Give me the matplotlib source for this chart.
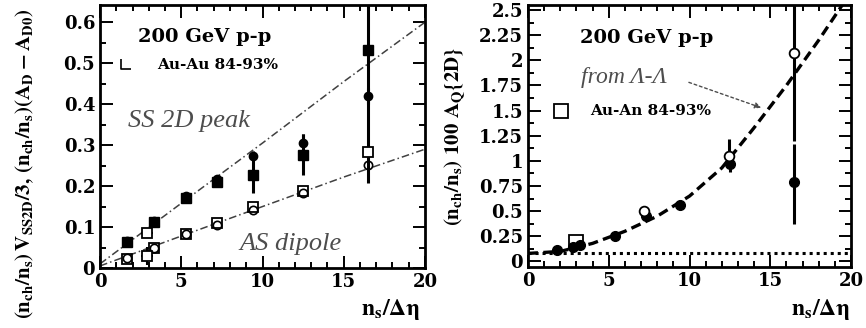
import numpy as np
import matplotlib
matplotlib.use("Agg")
import matplotlib.pyplot as plt
from matplotlib.ticker import MultipleLocator, FuncFormatter
from matplotlib.path import Path

# ---- left panel data: SS 2D peak (filled) and AS dipole (open) vs n_s/deta
left_x = [1.65, 3.3, 5.3, 7.2, 9.43, 12.5, 16.5]
ss_sq_y = [0.064, 0.112, 0.170, 0.210, 0.228, 0.276, 0.532]
ss_sq_lo = [0.004, 0.005, 0.008, 0.010, 0.045, 0.050, 0.325]
ss_sq_hi = [0.004, 0.005, 0.008, 0.010, 0.045, 0.050, 0.150]
ss_ci_y = [0.066, 0.115, 0.176, 0.217, 0.273, 0.306, 0.420]
ss_ci_err = [0.004, 0.005, 0.006, 0.010, 0.012, 0.020, 0.020]
as_sq_y = [0.021, 0.048, 0.082, 0.110, 0.150, 0.187, 0.283]
as_ci_y = [0.024, 0.050, 0.083, 0.105, 0.142, 0.183, 0.252]
auau_left_x = [2.9, 2.9]
auau_left_y = [0.085, 0.030]
auau_left_yerr = [0.008, 0.022]
auau_left_xerr = [0.35, 0.35]
ss_line_x = [0, 5, 10, 15, 20]
ss_line_y = [0.010, 0.158, 0.305, 0.455, 0.600]
as_line_x = [0, 5, 10, 15, 20]
as_line_y = [0.005, 0.078, 0.150, 0.222, 0.290]

# ---- right panel data: (n_ch/n_s) 100 A_Q{2D}
right_fx = [1.8, 2.8, 3.25, 5.4, 7.3, 9.4, 12.5, 16.5]
right_fy = [0.117, 0.14, 0.167, 0.255, 0.45, 0.56, 0.97, 0.79]
right_f_lo = [0.02, 0.02, 0.02, 0.02, 0.03, 0.03, 0.08, 0.42]
right_f_hi = [0.02, 0.02, 0.02, 0.02, 0.03, 0.03, 0.08, 0.38]
right_ox = [7.2, 12.45, 16.5]
right_oy = [0.50, 1.05, 2.07]
right_o_lo = [0.03, 0.08, 0.87]
right_o_hi = [0.03, 0.17, 0.60]
auau_right_x = [2.95]
auau_right_y = [0.19]
aq_curve_x = [0, 2, 4, 6, 8, 10, 12, 14, 16, 18, 20]
aq_curve_y = [0.08, 0.10, 0.18, 0.30, 0.45, 0.65, 0.93, 1.33, 1.75, 2.2, 2.68]
offset_level = 0.085

plt.rcParams["font.family"] = "DejaVu Serif"
plt.rcParams["font.weight"] = "bold"
plt.rcParams["mathtext.fontset"] = "stix"
plt.rcParams["mathtext.default"] = "bf"

fig = plt.figure(figsize=(8.66, 3.28), dpi=100)
axL = fig.add_axes([100 / 866, 60 / 328, 325 / 866, 263 / 328])
axR = fig.add_axes([528 / 866, 61 / 328, 323 / 866, 262 / 328])


def style(ax, ymajor, yminor):
    ax.set_xlim(0, 20)
    ax.xaxis.set_major_locator(MultipleLocator(5))
    ax.xaxis.set_minor_locator(MultipleLocator(1))
    ax.yaxis.set_major_locator(MultipleLocator(ymajor))
    ax.yaxis.set_minor_locator(MultipleLocator(yminor))
    ax.tick_params(which="both", direction="in", top=True, right=True,
                   labelsize=13, width=1.4)
    ax.tick_params(which="major", length=9)
    ax.tick_params(which="minor", length=4.5)
    ax.xaxis.set_major_formatter(FuncFormatter(lambda v, p: "%g" % v))
    ax.yaxis.set_major_formatter(FuncFormatter(lambda v, p: "%g" % v))
    for s in ax.spines.values():
        s.set_linewidth(2)


# ---------------- left panel
style(axL, 0.1, 0.05)
axL.set_ylim(0, 0.642)
dd = (0, (5, 2, 1, 2))
axL.plot(ss_line_x, ss_line_y, color="0.25", lw=1.1, ls=dd)
axL.plot(as_line_x, as_line_y, color="0.25", lw=1.1, ls=dd)
axL.errorbar(left_x, ss_sq_y, yerr=[ss_sq_lo, ss_sq_hi], fmt="s", color="black",
             ms=7, elinewidth=2.2, capsize=0)
axL.errorbar(left_x, ss_ci_y, yerr=ss_ci_err, fmt="o", color="black",
             ms=6, elinewidth=2.2, capsize=0)
axL.plot(left_x, as_sq_y, "s", mfc="white", mec="black", ms=7, mew=1.3)
axL.plot(left_x, as_ci_y, "o", mfc="none", mec="black", ms=6, mew=1.2)
axL.errorbar(auau_left_x, auau_left_y, yerr=auau_left_yerr, xerr=auau_left_xerr,
             fmt="s", mfc="white", mec="black", ecolor="black", ms=7, mew=1.3,
             elinewidth=1.5, capsize=0)
axL.text(2.35, 0.565, "200 GeV p-p", fontsize=14, fontweight="bold", va="center")
lmark = Path([(-1, 1), (-1, -1), (1, -1)], [Path.MOVETO, Path.LINETO, Path.LINETO])
axL.plot([1.6], [0.497], marker=lmark, ms=7, mfc="none", mec="black", mew=1.2)
axL.text(3.5, 0.495, "Au-Au 84-93%", fontsize=11, fontweight="bold", va="center")
axL.text(1.75, 0.36, "SS 2D peak", family="Liberation Serif", style="italic",
         fontweight="normal", fontsize=19, color="0.3", va="center")
axL.text(8.6, 0.058, "AS dipole", family="Liberation Serif", style="italic",
         fontweight="normal", fontsize=19, color="0.3", va="center")
fig.text(420 / 866, 18 / 328, r"$n_s/\Delta\eta$", fontsize=17, ha="right", va="center")
fig.text(25 / 866, 0.50,
         r"$(n_{ch}/n_s)\,V_{SS2D}/3,\,(n_{ch}/n_s)(A_D - A_{D0})$",
         rotation=90, fontsize=15, ha="center", va="center")

# ---------------- right panel
style(axR, 0.25, 0.125)
axR.set_ylim(-0.055, 2.55)
axR.plot([0, 20], [offset_level, offset_level], color="black", lw=2.2,
         ls=(0, (1, 1.3)))
axR.plot(aq_curve_x, aq_curve_y, color="black", lw=2.4, ls=(0, (3, 1.6)))
axR.errorbar(right_fx, right_fy, yerr=[right_f_lo, right_f_hi], fmt="o",
             color="black", ms=7, elinewidth=2.2, capsize=0)
axR.errorbar(right_ox, right_oy, yerr=[right_o_lo, right_o_hi], fmt="o",
             mfc="white", mec="black", ecolor="black", ms=7, mew=1.3,
             elinewidth=2.2, capsize=0)
axR.plot(auau_right_x, auau_right_y, "s", mfc="none", mec="black", ms=10, mew=1.3)
axR.text(3.2, 2.22, "200 GeV p-p", fontsize=14, fontweight="bold", va="center")
axR.text(3.3, 1.83, "from \u039b-\u039b", family="Liberation Serif",
         style="italic", fontweight="normal", fontsize=17, color="0.3", va="center")
axR.annotate("", xy=(14.6, 1.52), xytext=(9.8, 1.79),
             arrowprops=dict(arrowstyle="-|>", ls=(0, (2, 2)), lw=1, color="0.3",
                             mutation_scale=9))
axR.plot([2.05], [1.5], "s", mfc="none", mec="black", ms=10, mew=1.3)
axR.text(3.85, 1.5, "Au-An 84-93%", fontsize=11, fontweight="bold", va="center")
fig.text(850 / 866, 18 / 328, r"$n_s/\Delta\eta$", fontsize=17, ha="right", va="center")
fig.text(455 / 866, 0.585, r"$(n_{ch}/n_s)\ 100\ A_Q\{2D\}$",
         rotation=90, fontsize=15, ha="center", va="center")

fig.savefig("out.png", dpi=100)
